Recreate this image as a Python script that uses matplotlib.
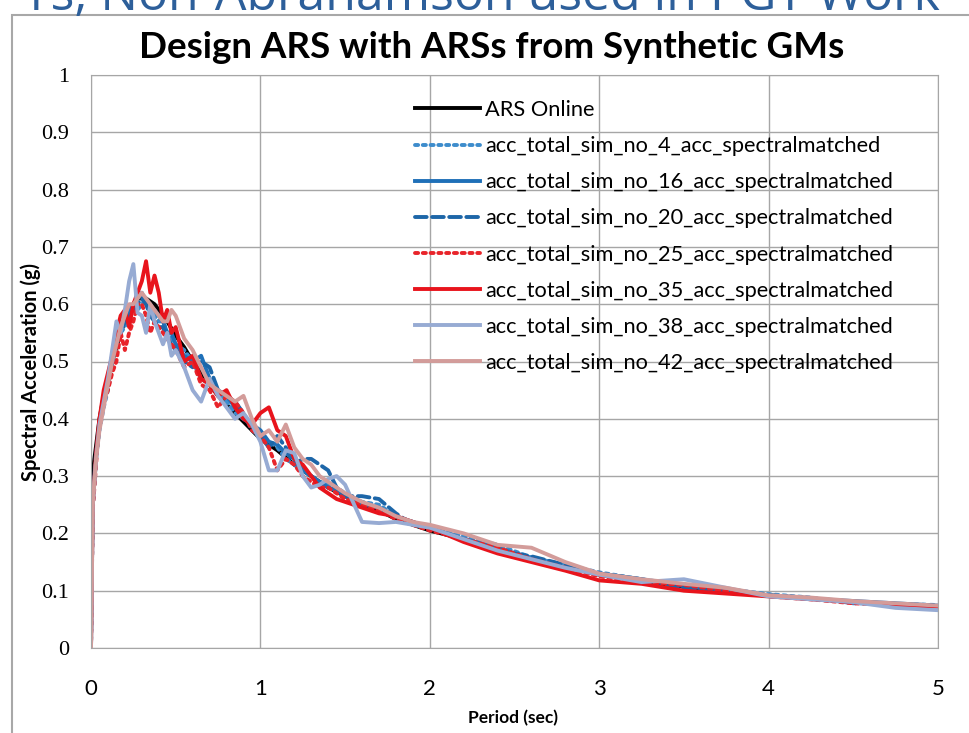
import numpy as np
import matplotlib
matplotlib.use("Agg")
import matplotlib.pyplot as plt
from matplotlib.patches import Rectangle

# ARS Online design spectrum
ars_period = [0.0, 0.02, 0.05, 0.075, 0.1, 0.125, 0.15, 0.175, 0.2, 0.225, 0.25, 0.275, 0.3, 0.325,
              0.35, 0.375, 0.4, 0.45, 0.5, 0.55, 0.6, 0.65, 0.7, 0.75, 0.8, 0.85, 0.9, 0.95, 1.0,
              1.1, 1.2, 1.3, 1.4, 1.5, 1.6, 1.7, 1.8, 1.9, 2.0, 2.2, 2.4, 2.6, 2.8, 3.0, 3.25,
              3.5, 3.75, 4.0, 4.25, 4.5, 4.75, 5.0]
ars_sa = [0.27, 0.33, 0.40, 0.44, 0.47, 0.50, 0.525, 0.55, 0.57, 0.59, 0.60, 0.61, 0.61, 0.61,
          0.605, 0.60, 0.59, 0.57, 0.545, 0.525, 0.50, 0.48, 0.46, 0.44, 0.425, 0.41, 0.395, 0.38, 0.365,
          0.345, 0.32, 0.30, 0.28, 0.265, 0.25, 0.24, 0.225, 0.215, 0.205, 0.19, 0.172, 0.157, 0.142, 0.128, 0.117,
          0.107, 0.099, 0.092, 0.086, 0.081, 0.077, 0.073]

# periods shared by the synthetic ground motion spectra
period = [0, 0.01, 0.03, 0.05, 0.075, 0.1, 0.125, 0.15, 0.175, 0.2,
          0.225, 0.25, 0.275, 0.3, 0.325, 0.35, 0.375, 0.4, 0.425, 0.45,
          0.475, 0.5, 0.55, 0.6, 0.65, 0.7, 0.75, 0.8, 0.85, 0.9,
          0.95, 1.0, 1.05, 1.1, 1.15, 1.2, 1.25, 1.3, 1.35, 1.4,
          1.45, 1.5, 1.6, 1.7, 1.8, 1.9, 2.0, 2.2, 2.4, 2.6,
          2.8, 3.0, 3.25, 3.5, 3.75, 4.0, 4.25, 4.5, 4.75, 5.0]

sim_4 = [0, 0.24, 0.33, 0.38, 0.42, 0.45, 0.49, 0.53, 0.55, 0.56,
         0.58, 0.60, 0.59, 0.60, 0.61, 0.59, 0.58, 0.57, 0.57, 0.55,
         0.54, 0.53, 0.52, 0.50, 0.47, 0.46, 0.45, 0.43, 0.41, 0.40,
         0.39, 0.37, 0.36, 0.35, 0.33, 0.32, 0.31, 0.30, 0.29, 0.285,
         0.28, 0.27, 0.255, 0.25, 0.23, 0.22, 0.21, 0.195, 0.18, 0.158,
         0.145, 0.132, 0.12, 0.11, 0.103, 0.094, 0.088, 0.078, 0.077, 0.075]
sim_16 = [0, 0.25, 0.33, 0.39, 0.43, 0.46, 0.50, 0.54, 0.56, 0.57,
          0.59, 0.60, 0.61, 0.62, 0.60, 0.59, 0.59, 0.58, 0.57, 0.55,
          0.55, 0.53, 0.51, 0.50, 0.51, 0.47, 0.45, 0.44, 0.42, 0.40,
          0.39, 0.38, 0.36, 0.355, 0.34, 0.33, 0.31, 0.30, 0.29, 0.28,
          0.275, 0.265, 0.25, 0.245, 0.23, 0.22, 0.21, 0.19, 0.175, 0.155,
          0.14, 0.13, 0.12, 0.108, 0.10, 0.092, 0.086, 0.082, 0.078, 0.074]
sim_20 = [0, 0.26, 0.34, 0.39, 0.43, 0.47, 0.50, 0.53, 0.55, 0.57,
          0.58, 0.59, 0.60, 0.61, 0.60, 0.58, 0.57, 0.56, 0.56, 0.54,
          0.53, 0.52, 0.50, 0.49, 0.50, 0.49, 0.45, 0.44, 0.43, 0.41,
          0.38, 0.37, 0.35, 0.37, 0.35, 0.32, 0.33, 0.33, 0.32, 0.31,
          0.28, 0.265, 0.265, 0.26, 0.235, 0.215, 0.21, 0.19, 0.17, 0.16,
          0.145, 0.13, 0.12, 0.105, 0.098, 0.092, 0.087, 0.08, 0.076, 0.074]
sim_25 = [0, 0.24, 0.32, 0.40, 0.43, 0.45, 0.48, 0.50, 0.55, 0.52,
          0.55, 0.57, 0.60, 0.60, 0.58, 0.55, 0.57, 0.56, 0.55, 0.54,
          0.53, 0.52, 0.49, 0.50, 0.46, 0.45, 0.42, 0.44, 0.43, 0.41,
          0.38, 0.37, 0.35, 0.31, 0.33, 0.32, 0.30, 0.29, 0.28, 0.28,
          0.27, 0.26, 0.25, 0.24, 0.225, 0.215, 0.205, 0.19, 0.175, 0.155,
          0.14, 0.125, 0.115, 0.11, 0.10, 0.09, 0.085, 0.078, 0.075, 0.073]
sim_35 = [0, 0.25, 0.34, 0.40, 0.45, 0.48, 0.51, 0.55, 0.58, 0.59,
          0.56, 0.60, 0.62, 0.64, 0.675, 0.62, 0.65, 0.62, 0.57, 0.59,
          0.55, 0.56, 0.50, 0.51, 0.47, 0.46, 0.44, 0.45, 0.42, 0.40,
          0.39, 0.41, 0.42, 0.38, 0.37, 0.33, 0.32, 0.30, 0.28, 0.27,
          0.26, 0.255, 0.245, 0.235, 0.23, 0.22, 0.21, 0.185, 0.165, 0.15,
          0.135, 0.118, 0.112, 0.10, 0.095, 0.09, 0.085, 0.08, 0.075, 0.072]
sim_38 = [0, 0.25, 0.33, 0.39, 0.43, 0.47, 0.52, 0.57, 0.55, 0.59,
          0.64, 0.67, 0.585, 0.58, 0.55, 0.60, 0.57, 0.55, 0.53, 0.55,
          0.51, 0.52, 0.49, 0.45, 0.43, 0.47, 0.44, 0.42, 0.40, 0.41,
          0.39, 0.36, 0.31, 0.31, 0.345, 0.34, 0.30, 0.28, 0.285, 0.295,
          0.30, 0.285, 0.22, 0.218, 0.22, 0.215, 0.21, 0.19, 0.17, 0.155,
          0.14, 0.128, 0.115, 0.12, 0.105, 0.09, 0.085, 0.08, 0.07, 0.066]
sim_42 = [0, 0.25, 0.33, 0.38, 0.42, 0.46, 0.50, 0.53, 0.56, 0.58,
          0.60, 0.60, 0.61, 0.62, 0.61, 0.60, 0.59, 0.58, 0.57, 0.57,
          0.59, 0.58, 0.54, 0.52, 0.49, 0.46, 0.45, 0.44, 0.43, 0.44,
          0.40, 0.37, 0.38, 0.36, 0.39, 0.35, 0.33, 0.32, 0.30, 0.29,
          0.28, 0.27, 0.255, 0.245, 0.23, 0.22, 0.215, 0.20, 0.18, 0.175,
          0.15, 0.13, 0.12, 0.112, 0.105, 0.092, 0.088, 0.082, 0.078, 0.074]

series = [
    ("acc_total_sim_no_4_acc_spectralmatched", sim_4, "#3d8ccc", (0, (0.8, 1.2))),
    ("acc_total_sim_no_16_acc_spectralmatched", sim_16, "#1f70b8", "-"),
    ("acc_total_sim_no_20_acc_spectralmatched", sim_20, "#1d66a8", (0, (3, 1.4))),
    ("acc_total_sim_no_25_acc_spectralmatched", sim_25, "#e8242a", (0, (0.8, 1.2))),
    ("acc_total_sim_no_35_acc_spectralmatched", sim_35, "#e8141c", "-"),
    ("acc_total_sim_no_38_acc_spectralmatched", sim_38, "#97abd3", "-"),
    ("acc_total_sim_no_42_acc_spectralmatched", sim_42, "#d39c9a", "-"),
]

fig = plt.figure(figsize=(9.7, 7.33), dpi=100)

# slide frame and clipped slide heading behind the chart
fig.add_artist(Rectangle((12 / 970, -0.05), 1.1, 1 - 15 / 733 + 0.05, transform=fig.transFigure,
                         fill=False, edgecolor="#a8a8a8", linewidth=1.5))
fig.text(0.5, 1 - 10 / 733, "rs, Non-Abrahamson used in PGT Work", ha="center", va="baseline",
         fontsize=36, color="#2d5f9a", family="Open Sans")

ax = fig.add_axes([91 / 970, 1 - 648 / 733, (938 - 91) / 970, (648 - 75) / 733])

ax.plot(ars_period, ars_sa, color="black", lw=2.8, label="ARS Online")
for name, vals, col, ls in series:
    ax.plot(period, vals, color=col, lw=2.8, ls=ls, label=name,
            dash_capstyle="round", solid_joinstyle="round")

ax.set_xlim(0, 5)
ax.set_ylim(0, 1)
ax.set_xticks(np.arange(0, 6, 1))
ax.set_yticks(np.arange(0, 1.01, 0.1))
ax.set_xticklabels([str(i) for i in range(6)], family="Lato", fontsize=16)
ax.set_yticklabels(["0", "0.1", "0.2", "0.3", "0.4", "0.5", "0.6", "0.7", "0.8", "0.9", "1"],
                   family="Liberation Serif", fontsize=16)
ax.tick_params(axis="x", length=0, pad=22)
ax.tick_params(axis="y", length=0, pad=16)
ax.grid(True, color="#a6a6a6", lw=1)
for s in ax.spines.values():
    s.set_color("#a6a6a6")

fig.text(0.507, 1 - 47 / 733, "Design ARS with ARSs from Synthetic GMs", ha="center", va="center",
         fontsize=26.5, fontweight="bold", family="Lato")
fig.text(0.529, 1 - 718 / 733, "Period (sec)", ha="center", va="center",
         fontsize=12.5, fontweight="bold", family="Lato")
fig.text(0.032, 1 - 372 / 733, "Spectral Acceleration (g)", ha="center", va="center",
         rotation=90, fontsize=14.5, fontweight="bold", family="Lato")

ax.legend(loc="upper left", bbox_to_anchor=(415 / 970, 1 - 100 / 733), bbox_transform=fig.transFigure,
          frameon=False, borderpad=0, borderaxespad=0, handlelength=3.0, handletextpad=0.2,
          labelspacing=0.74, prop={"family": "Lato", "size": 15.7})

fig.savefig("out.png", dpi=100)
